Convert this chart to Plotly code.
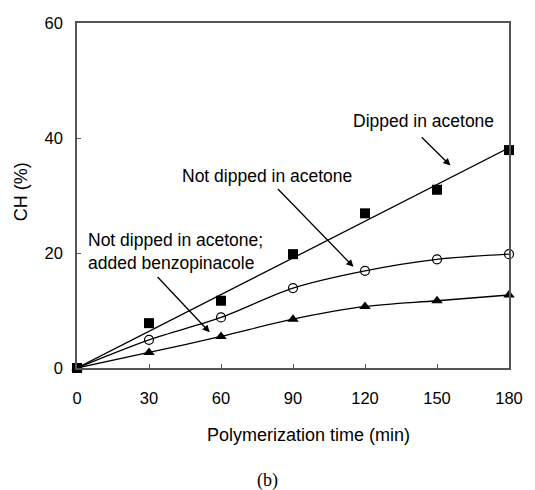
import numpy as np
import plotly.graph_objects as go

time_min = [0, 30, 60, 90, 120, 150, 180]
dipped = [0, 7.8, 11.7, 19.8, 26.9, 31.0, 37.9]
not_dipped = [0, 4.9, 8.8, 13.9, 16.9, 18.9, 19.8]
benzopinacole = [0, 2.7, 5.5, 8.5, 10.7, 11.7, 12.7]

x_ticks = [0, 30, 60, 90, 120, 150, 180]
y_ticks = [0, 20, 40, 60]

FONT = "Liberation Sans, Arial, sans-serif"
FS = 17.5

# least-squares line through origin for the dipped series
xa = np.array(time_min, dtype=float)
ya = np.array(dipped, dtype=float)
slope = float((xa * ya).sum() / (xa * xa).sum())
fit_x = [0, 180]
fit_y = [slope * v for v in fit_x]

fig = go.Figure()
fig.add_trace(go.Scatter(x=fit_x, y=fit_y, mode="lines",
                         line=dict(color="black", width=1.3), cliponaxis=False))
fig.add_trace(go.Scatter(x=time_min, y=not_dipped, mode="lines", line_shape="spline",
                         line=dict(color="black", width=1.3, smoothing=0.9), cliponaxis=False))
fig.add_trace(go.Scatter(x=time_min, y=benzopinacole, mode="lines", line_shape="spline",
                         line=dict(color="black", width=1.3, smoothing=0.9), cliponaxis=False))
fig.add_trace(go.Scatter(x=time_min, y=dipped, mode="markers",
                         marker=dict(symbol="square", size=10, color="black"), cliponaxis=False))
fig.add_trace(go.Scatter(x=time_min, y=not_dipped, mode="markers",
                         marker=dict(symbol="circle-open", size=9, color="black",
                                     line=dict(width=1.2)), cliponaxis=False))
fig.add_trace(go.Scatter(x=time_min, y=benzopinacole, mode="markers",
                         marker=dict(symbol="triangle-up", size=10, color="black"), cliponaxis=False))

ann = dict(showarrow=True, arrowhead=2, arrowsize=1.1, arrowwidth=1.3, arrowcolor="black",
           axref="x", ayref="y", xref="x", yref="y",
           font=dict(family=FONT, size=FS, color="black"))
txt = dict(family=FONT, size=FS, color="black")

fig.add_annotation(x=155.6, y=35.2, ax=143, ay=40.4, text="", **ann)
fig.add_annotation(x=144.4, y=43.0, text="Dipped in acetone", showarrow=False, font=txt)
fig.add_annotation(x=115.2, y=17.6, ax=83.1, ay=31.4, text="", **ann)
fig.add_annotation(x=79, y=33.4, text="Not dipped in acetone", showarrow=False, font=txt)
fig.add_annotation(x=55.3, y=6.2, ax=33, ay=16.1, text="", **ann)
fig.add_annotation(x=3.8, y=20.3, text="Not dipped in acetone;<br>added benzopinacole",
                   showarrow=False, xanchor="left", align="left", font=txt)

fig.add_annotation(x=0.535, y=-0.194, xref="paper", yref="paper",
                   text="Polymerization time (min)", showarrow=False,
                   xanchor="center", yanchor="middle",
                   font=dict(family=FONT, size=18, color="black"))
fig.add_annotation(x=-0.129, y=0.51, xref="paper", yref="paper",
                   text="CH (%)", textangle=-90, showarrow=False,
                   xanchor="center", yanchor="middle",
                   font=dict(family=FONT, size=18, color="black"))
fig.add_annotation(x=0.442, y=-0.325, xref="paper", yref="paper", text="(b)", showarrow=False,
                   xanchor="center", yanchor="middle",
                   font=dict(family="Liberation Serif, Times New Roman, serif", size=18, color="black"))

axis_common = dict(showgrid=False, zeroline=False, showline=True, linecolor="#555",
                   linewidth=1.5, mirror=True, ticks="inside", ticklen=4, tickcolor="#555",
                   tickfont=dict(family=FONT, size=16.5, color="black"))

fig.update_xaxes(range=[0, 180], tickvals=x_ticks, ticklabelstandoff=14, **axis_common)
fig.update_yaxes(range=[0, 60], tickvals=y_ticks, ticklabelstandoff=9, **axis_common)

fig.update_layout(width=535, height=490, showlegend=False,
                  margin=dict(l=77, r=17, t=23, b=122),
                  paper_bgcolor="white", plot_bgcolor="white")

fig.write_html("out.html")
